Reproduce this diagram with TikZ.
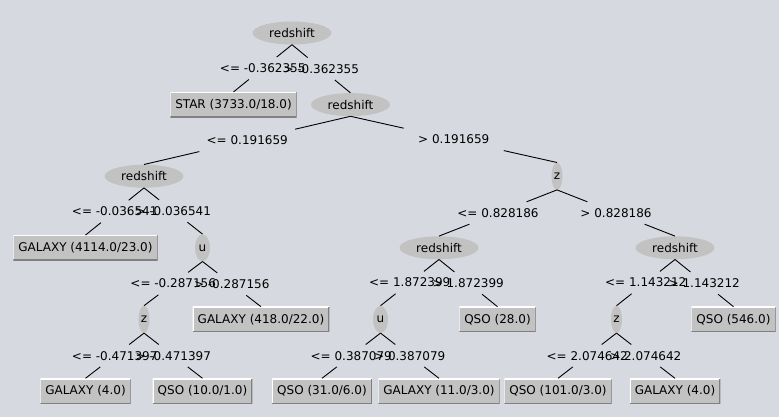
\documentclass[tikz,border=0pt]{standalone}
\usepackage{fontspec}
\setmainfont{DejaVu Sans}
\usetikzlibrary{shapes.geometric}

\definecolor{panel}{RGB}{214,217,223}
\definecolor{oval}{RGB}{194,194,194}
\definecolor{boxfill}{RGB}{194,194,194}
\definecolor{boxdark}{RGB}{128,128,128}

\begin{document}
\begin{tikzpicture}[x = 1pt, y = 1pt, grow = down, level distance = 71.6pt,
    level/.style = {sibling distance = 117pt},
    edge from parent/.style = {draw = none},
    every node/.style = {font = \fontsize{12}{14}\selectfont},
    split/.style = {shape = ellipse, fill = oval, inner sep = 0pt, minimum width = 79pt, minimum height = 23pt},
    test/.style = {shape = ellipse, fill = oval, inner sep = 0pt, minimum width = 11pt, minimum height = 27pt},
    leaf/.style = {shape = rectangle, fill = boxfill, inner xsep = 5pt, minimum height = 25pt,
        path picture = {
            \draw[white, line width = 2pt] (path picture bounding box.south west) |- (path picture bounding box.north east);
            \draw[boxdark, line width = 2pt] (path picture bounding box.south west) -| (path picture bounding box.north east);}},
    cut/.style = {shape = rectangle, inner sep = 0pt, minimum width = 150pt, minimum height = 22pt}]
    \useasboundingbox[fill = panel] (0,0) rectangle (779,-417);
    % the tree, laid out by levels
    \node[split] (root) at (292,-33) {redshift}
        child{ node[leaf] (star) {STAR (3733.0/18.0)} }
        child{ node[split] (rs2) {redshift}
            child[sibling distance = 413pt]{ node[split] (rs3) {redshift}
                child{ node[leaf] (gal1) {GALAXY (4114.0/23.0)} }
                child{ node[test, minimum width = 15pt] (u1) {u}
                    child{ node[test] (z2) {z}
                        child{ node[leaf] (gal3) {GALAXY (4.0)} }
                        child{ node[leaf] (qso1) {QSO (10.0/1.0)} }}
                    child{ node[leaf] (gal2) {GALAXY (418.0/22.0)} }}}
            child[sibling distance = 413pt]{ node[test] (z1) {z}
                child[sibling distance = 236pt]{ node[split] (rs4) {redshift}
                    child{ node[test, minimum width = 15pt] (u2) {u}
                        child{ node[leaf] (qso3) {QSO (31.0/6.0)} }
                        child{ node[leaf] (gal4) {GALAXY (11.0/3.0)} }}
                    child{ node[leaf] (qso2) {QSO (28.0)} }}
                child[sibling distance = 236pt]{ node[split] (rs5) {redshift}
                    child{ node[test] (z3) {z}
                        child{ node[leaf] (qso5) {QSO (101.0/3.0)} }
                        child{ node[leaf] (gal5) {GALAXY (4.0)} }}
                    child{ node[leaf] (qso4) {QSO (546.0)} }}}};
    % branches, broken where the test value sits
    \foreach \p/\c/\t in {root/star/{<= -0.362355}, root/rs2/{> -0.362355},
        rs2/rs3/{<= 0.191659}, rs2/z1/{> 0.191659},
        rs3/gal1/{<= -0.036541}, rs3/u1/{> -0.036541},
        u1/z2/{<= -0.287156}, u1/gal2/{> -0.287156},
        z2/gal3/{<= -0.471397}, z2/qso1/{> -0.471397},
        z1/rs4/{<= 0.828186}, z1/rs5/{> 0.828186},
        rs4/u2/{<= 1.872399}, rs4/qso2/{> 1.872399},
        u2/qso3/{<= 0.387079}, u2/gal4/{> 0.387079},
        rs5/z3/{<= 1.143212}, rs5/qso4/{> 1.143212},
        z3/qso5/{<= 2.074642}, z3/gal5/{> 2.074642}}{
        \path (\p.south) -- (\c.north) node[cut, pos = 0.5] (\p-\c) {\t};
        \draw[line width = 0.9pt] (\p.south) -- (\p-\c) (\p-\c) -- (\c.north);
    }
\end{tikzpicture}
\end{document}
